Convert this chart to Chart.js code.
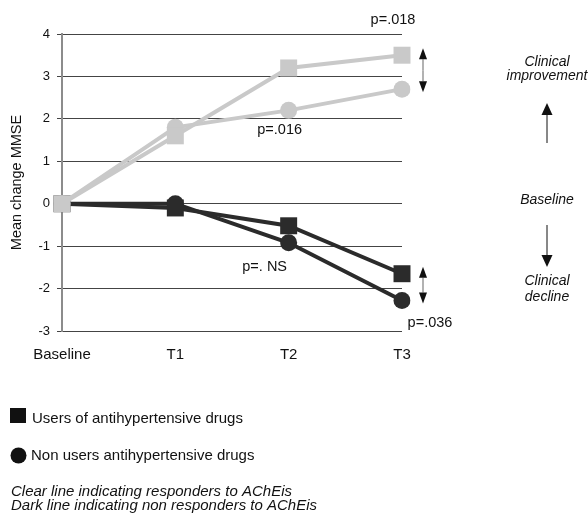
<!DOCTYPE html>
<html>
<head>
<meta charset="utf-8">
<script src="https://cdn.jsdelivr.net/npm/chart.js@4.4.0/dist/chart.umd.min.js"></script>
<style>
  html, body { margin: 0; padding: 0; background: #fff; }
  #wrap { width: 588px; height: 514px; position: relative; }
</style>
</head>
<body>
<div id="wrap"><canvas id="c"></canvas></div>
<script>
// Time points and mean MMSE change per group
const timePoints = ['Baseline', 'T1', 'T2', 'T3'];
const respondersUsers = [0, 1.6, 3.2, 3.5];
const respondersNonUsers = [0, 1.8, 2.2, 2.7];
const nonRespondersUsers = [0, -0.1, -0.52, -1.65];
const nonRespondersNonUsers = [0, 0, -0.92, -2.28];
const yTicks = { min: -3, max: 4, step: 1 };

const LIGHT = '#c9c9c9';
const DARK = '#2b2b2b';
const FONT = '"Liberation Sans", Arial, sans-serif';

function series(label, data, color, style) {
  return {
    label, data,
    borderColor: color, backgroundColor: color,
    borderWidth: 4,
    pointStyle: style,
    pointRadius: style === 'rect' ? 12 : 8.5,
    pointHoverRadius: style === 'rect' ? 12 : 8.5,
    pointBorderWidth: 0,
    tension: 0
  };
}

function arrow(ctx, x, y1, y2, headLen, headW) {
  // line from y1 to y2 with a filled head whose tip sits at y2
  const dir = y2 > y1 ? 1 : -1;
  ctx.beginPath(); ctx.moveTo(x, y1); ctx.lineTo(x, y2 - dir * headLen); ctx.stroke();
  ctx.beginPath();
  ctx.moveTo(x, y2);
  ctx.lineTo(x - headW / 2, y2 - dir * headLen);
  ctx.lineTo(x + headW / 2, y2 - dir * headLen);
  ctx.closePath(); ctx.fill();
}

const notes = {
  id: 'notes',
  afterDraw(chart) {
    const ctx = chart.ctx;
    const xs = chart.scales.x, ys = chart.scales.y;
    const xT2 = xs.getPixelForValue(2), xT3 = xs.getPixelForValue(3);
    ctx.save();
    ctx.fillStyle = '#111';
    ctx.font = '14.5px ' + FONT;
    ctx.textBaseline = 'middle';
    ctx.textAlign = 'center';
    ctx.fillText('p=.018', xT3 - 9, ys.getPixelForValue(4.34));
    ctx.fillText('p=.016', xT2 - 9, ys.getPixelForValue(1.74));
    ctx.fillText('p=. NS', xT2 - 24, ys.getPixelForValue(-1.5));
    ctx.fillText('p=.036', xT3 + 28, ys.getPixelForValue(-2.82));

    // double arrows beside the T3 gaps
    ctx.strokeStyle = '#999'; ctx.lineWidth = 1.5; ctx.fillStyle = '#111';
    const ax = xT3 + 21;
    [[respondersUsers[3], respondersNonUsers[3]], [nonRespondersUsers[3], nonRespondersNonUsers[3]]].forEach(([a, b]) => {
      const ya = ys.getPixelForValue(a) - 7, yb = ys.getPixelForValue(b) + 3;
      const mid = (ya + yb) / 2;
      arrow(ctx, ax, mid, ya, 11, 8);
      arrow(ctx, ax, mid, yb, 11, 8);
    });

    // right-hand direction key
    const rx = 547;
    ctx.fillStyle = '#111';
    ctx.font = 'italic 14px ' + FONT;
    ctx.fillText('Clinical', rx, 62);
    ctx.fillText('improvement', rx, 76);
    ctx.fillText('Baseline', rx, 200);
    ctx.fillText('Clinical', rx, 281);
    ctx.fillText('decline', rx, 297);
    ctx.strokeStyle = '#111'; ctx.lineWidth = 1;
    arrow(ctx, rx, 143, 103, 12, 11);
    arrow(ctx, rx, 225, 267, 12, 11);

    // legend
    ctx.textAlign = 'left';
    ctx.fillStyle = '#111';
    ctx.fillRect(10, 408, 16, 15);
    ctx.beginPath(); ctx.arc(18.5, 455.5, 8, 0, Math.PI * 2); ctx.fill();
    ctx.font = '15px ' + FONT;
    ctx.fillText('Users of antihypertensive drugs', 32, 419);
    ctx.fillText('Non users antihypertensive drugs', 31, 456);
    ctx.font = 'italic 15px ' + FONT;
    ctx.fillText('Clear line indicating responders to AChEis', 11, 492);
    ctx.fillText('Dark line indicating non responders to AChEis', 11, 506);
    ctx.restore();
  }
};

new Chart(document.getElementById('c'), {
  type: 'line',
  data: {
    labels: timePoints,
    datasets: [
      series('Responders, users', respondersUsers, LIGHT, 'rect'),
      series('Responders, non users', respondersNonUsers, LIGHT, 'circle'),
      series('Non responders, users', nonRespondersUsers, DARK, 'rect'),
      series('Non responders, non users', nonRespondersNonUsers, DARK, 'circle')
    ]
  },
  options: {
    responsive: true,
    maintainAspectRatio: false,
    animation: false,
    layout: { padding: { left: 0, top: 34, right: 186, bottom: 143 } },
    plugins: { legend: { display: false }, tooltip: { enabled: false } },
    scales: {
      x: {
        offset: false,
        grid: { display: false, drawTicks: false },
        border: { display: false },
        ticks: { color: '#111', font: { family: FONT, size: 15 }, padding: 15 },
        afterFit(scale) { scale.height = 40; }
      },
      y: {
        min: yTicks.min, max: yTicks.max,
        ticks: { stepSize: yTicks.step, color: '#111', font: { family: FONT, size: 13 }, padding: 7 },
        grid: { color: '#444', lineWidth: 1, tickLength: 5, drawTicks: true },
        border: { display: true, color: '#8c8c8c', width: 2 },
        title: { display: true, text: 'Mean change MMSE', color: '#111', font: { family: FONT, size: 14.5 }, padding: { top: 8, bottom: 0 } },
        afterFit(scale) { scale.width = 62; }
      }
    }
  },
  plugins: [notes]
});
</script>
</body>
</html>
